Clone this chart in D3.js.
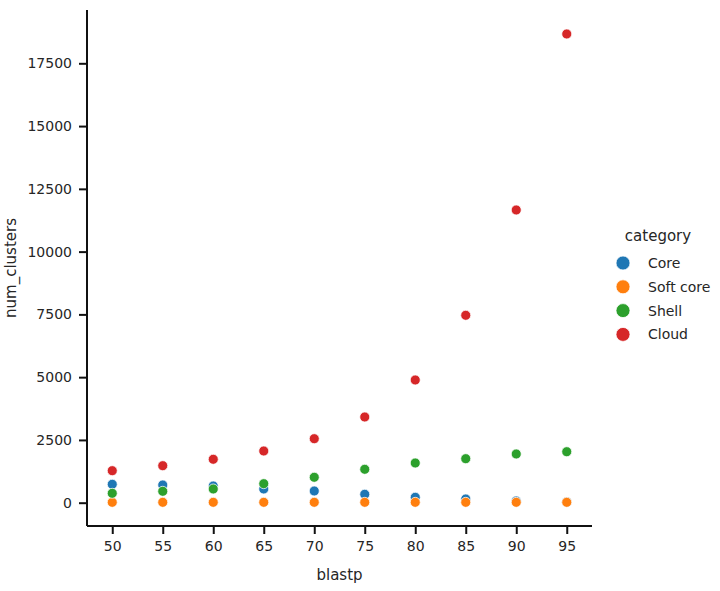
<!DOCTYPE html>
<html>
<head>
<meta charset="utf-8">
<script src="https://cdn.jsdelivr.net/npm/d3@7"></script>
<style>
  body { margin: 0; background: #fff; }
  text { font-family: "DejaVu Sans", sans-serif; fill: #262626; }
</style>
</head>
<body>
<div id="chart"></div>
<script>
// data
const blastp = [50, 55, 60, 65, 70, 75, 80, 85, 90, 95];
const categories = ["Core", "Soft core", "Shell", "Cloud"];
const core = [733, 705, 665, 546, 466, 335, 215, 147, 68, 30];
const softCore = [15, 15, 15, 15, 15, 15, 15, 15, 15, 15];
const shell = [374, 454, 546, 757, 1012, 1330, 1581, 1753, 1940, 2031];
const cloud = [1275, 1474, 1729, 2059, 2549, 3413, 4887, 7464, 11658, 18668];
const yTicks = [0, 2500, 5000, 7500, 10000, 12500, 15000, 17500];

const colors = ["#1f77b4", "#ff7f0e", "#2ca02c", "#d62728"];
const series = [core, softCore, shell, cloud];

const width = 720, height = 591;
const plotLeft = 87, plotRight = 592, plotTop = 10, plotBottom = 526;

const svg = d3.select("#chart")
    .append("svg")
    .attr("width", width)
    .attr("height", height)

const x = d3.scaleLinear().domain([47.5, 97.5]).range([plotLeft, plotRight]);
const y = d3.scaleLinear().domain([-928, 19623]).range([plotBottom, plotTop]);
const color = d3.scaleOrdinal().domain(categories).range(colors);

// axes
const xAxis = svg.append("g")
    .attr("transform", "translate(0," + plotBottom + ")")
    .call(d3.axisBottom(x).tickValues(blastp).tickFormat(d3.format("d")).tickSize(8).tickPadding(7));
const yAxis = svg.append("g")
    .attr("transform", "translate(" + plotLeft + ",0)")
    .call(d3.axisLeft(y).tickValues(yTicks).tickFormat(d3.format("d")).tickSize(8).tickPadding(7));

[xAxis, yAxis].forEach(function (g) {
    g.select(".domain").attr("stroke", "#111").attr("stroke-width", 2);
    g.selectAll(".tick line").attr("stroke", "#111").attr("stroke-width", 2);
    g.selectAll(".tick text").style("font-size", "14px").attr("fill", "#262626");
});
// seaborn despine: spines span the full plot area
xAxis.select(".domain").attr("d", "M" + plotLeft + ",0H" + plotRight);
yAxis.select(".domain").attr("d", "M0," + plotTop + "V" + plotBottom);

svg.append("text")
    .attr("x", (plotLeft + plotRight) / 2)
    .attr("y", 580)
    .attr("text-anchor", "middle")
    .style("font-size", "15px")
    .text("blastp");

svg.append("text")
    .attr("transform", "translate(16," + (plotTop + plotBottom) / 2 + ") rotate(-90)")
    .attr("text-anchor", "middle")
    .style("font-size", "15px")
    .text("num_clusters");

// points
categories.forEach(function (c, i) {
    svg.append("g")
        .selectAll("circle")
        .data(series[i])
        .join("circle")
        .attr("cx", (d, j) => x(blastp[j]))
        .attr("cy", d => y(d))
        .attr("r", 5)
        .attr("fill", color(c))
        .attr("stroke", "#fff")
        .attr("stroke-width", 0.75);
});

// legend
const legend = svg.append("g");
legend.append("text")
    .attr("x", 658)
    .attr("y", 241)
    .attr("text-anchor", "middle")
    .style("font-size", "15px")
    .text("category");

const item = legend.selectAll(".item")
    .data(categories)
    .join("g")
    .attr("class", "item")
    .attr("transform", (d, i) => "translate(0," + (263 + i * 23.8) + ")");
item.append("circle")
    .attr("cx", 623)
    .attr("r", 7)
    .attr("fill", d => color(d))
    .attr("stroke", "#fff")
    .attr("stroke-width", 0.75);
item.append("text")
    .attr("x", 648)
    .attr("y", 5)
    .style("font-size", "14px")
    .text(d => d);
</script>
</body>
</html>
